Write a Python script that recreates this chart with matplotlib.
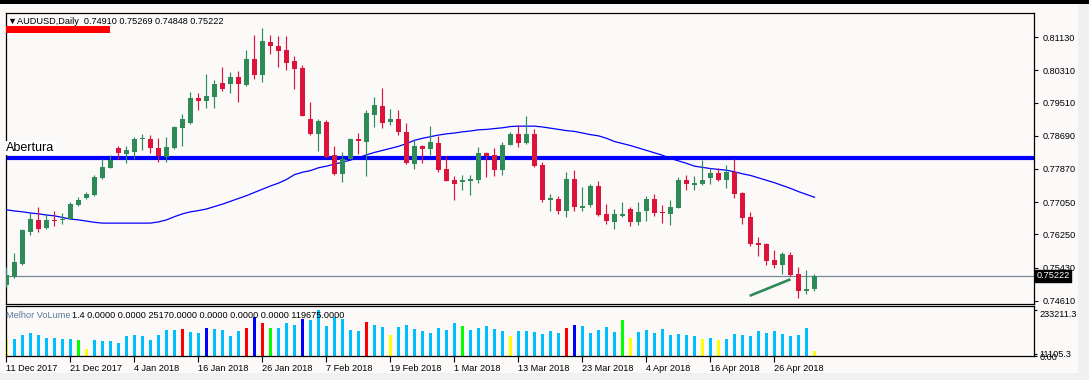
import matplotlib
matplotlib.use('Agg')
import matplotlib.pyplot as plt
import matplotlib.transforms as mtransforms
from matplotlib.patches import Rectangle
import numpy as np

plt.rcParams['font.family'] = ['Liberation Sans', 'DejaVu Sans']

# ---------------- data ----------------
opens = [0.7500, 0.7520, 0.7552, 0.7632, 0.7661, 0.7640, 0.7661, 0.7660, 0.7663, 0.7698,
         0.7714, 0.7723, 0.7765, 0.7790, 0.7840, 0.7824, 0.7830, 0.7861, 0.7861, 0.7840,
         0.7817, 0.7838, 0.7889, 0.7900, 0.7962, 0.7956, 0.7966, 0.8000, 0.7997, 0.8015,
         0.7995, 0.8059, 0.8020, 0.8101, 0.8091, 0.8082, 0.8054, 0.8037, 0.7911, 0.7874,
         0.7903, 0.7822, 0.7775, 0.7812, 0.7861, 0.7855, 0.7921, 0.7943, 0.7904, 0.7911,
         0.7879, 0.7799, 0.7844, 0.7837, 0.7852, 0.7787, 0.7759, 0.7754, 0.7758, 0.7759,
         0.7827, 0.7822, 0.7785, 0.7846, 0.7874, 0.7852, 0.7874, 0.7797, 0.7710, 0.7713,
         0.7683, 0.7762, 0.7690, 0.7698, 0.7745, 0.7676, 0.7657, 0.7671, 0.7688, 0.7657,
         0.7683, 0.7713, 0.7680, 0.7676, 0.7691, 0.7760, 0.7748, 0.7750, 0.7765, 0.7778,
         0.7760, 0.7779, 0.7727, 0.7668, 0.7603, 0.7601, 0.7562, 0.7549, 0.7574, 0.7527,
         0.7486, 0.74910]
highs = [0.7545, 0.7580, 0.7638, 0.7677, 0.7692, 0.7676, 0.7683, 0.7679, 0.7705, 0.7718,
         0.7729, 0.7772, 0.7811, 0.7822, 0.7844, 0.7844, 0.7867, 0.7874, 0.7871, 0.7864,
         0.7865, 0.7893, 0.7922, 0.7978, 0.7974, 0.8022, 0.8007, 0.8040, 0.8028, 0.8030,
         0.8082, 0.8119, 0.8135, 0.8119, 0.8116, 0.8116, 0.8067, 0.8044, 0.7954, 0.7911,
         0.7908, 0.7844, 0.7830, 0.7863, 0.7877, 0.7933, 0.7964, 0.7987, 0.7935, 0.7933,
         0.7902, 0.7859, 0.7846, 0.7893, 0.7869, 0.7819, 0.7770, 0.7772, 0.7772, 0.7842,
         0.7830, 0.7838, 0.7853, 0.7879, 0.7896, 0.7917, 0.7886, 0.7804, 0.7725, 0.7720,
         0.7780, 0.7785, 0.7743, 0.7750, 0.7757, 0.7700, 0.7688, 0.7705, 0.7692, 0.7705,
         0.7720, 0.7725, 0.7698, 0.7710, 0.7768, 0.7772, 0.7770, 0.7809, 0.7789, 0.7789,
         0.7797, 0.7811, 0.7731, 0.7680, 0.7618, 0.7604, 0.7586, 0.7581, 0.7581, 0.7544,
         0.7537, 0.75269]
lows = [0.7496, 0.7516, 0.7549, 0.7624, 0.7632, 0.7638, 0.7647, 0.7651, 0.7662, 0.7696,
        0.7712, 0.7721, 0.7762, 0.7789, 0.7812, 0.7803, 0.7812, 0.7834, 0.7826, 0.7805,
        0.7805, 0.7836, 0.7844, 0.7898, 0.7933, 0.7939, 0.7939, 0.7981, 0.7976, 0.7954,
        0.7993, 0.8010, 0.8003, 0.8072, 0.8040, 0.8032, 0.7985, 0.7917, 0.7871, 0.7832,
        0.7815, 0.7772, 0.7756, 0.7811, 0.7824, 0.7770, 0.7890, 0.7889, 0.7896, 0.7871,
        0.7799, 0.7787, 0.7803, 0.7822, 0.7780, 0.7758, 0.7710, 0.7735, 0.7723, 0.7753,
        0.7768, 0.7770, 0.7772, 0.7846, 0.7842, 0.7849, 0.7793, 0.7706, 0.7684, 0.7676,
        0.7669, 0.7684, 0.7684, 0.7692, 0.7671, 0.7651, 0.7638, 0.7669, 0.7646, 0.7648,
        0.7658, 0.7671, 0.7654, 0.7648, 0.7690, 0.7735, 0.7735, 0.7747, 0.7750, 0.7758,
        0.7741, 0.7716, 0.7651, 0.7596, 0.7572, 0.7549, 0.7541, 0.7527, 0.7523, 0.7468,
        0.7478, 0.74848]
closes = [0.7525, 0.7556, 0.7636, 0.7663, 0.7638, 0.7661, 0.7658, 0.7663, 0.7700, 0.7710,
          0.7725, 0.7768, 0.7793, 0.7808, 0.7827, 0.7834, 0.7861, 0.7863, 0.7838, 0.7819,
          0.7842, 0.7890, 0.7911, 0.7962, 0.7956, 0.7968, 0.7997, 0.7985, 0.8015, 0.7997,
          0.8059, 0.8020, 0.8104, 0.8092, 0.8080, 0.8050, 0.8034, 0.7917, 0.7874, 0.7906,
          0.7817, 0.7775, 0.7811, 0.7861, 0.7856, 0.7926, 0.7945, 0.7902, 0.7911, 0.7879,
          0.7803, 0.7845, 0.7837, 0.7855, 0.7785, 0.7758, 0.7750, 0.7759, 0.7763, 0.7827,
          0.7820, 0.7785, 0.7846, 0.7874, 0.7852, 0.7874, 0.7795, 0.7709, 0.7715, 0.7683,
          0.7762, 0.7694, 0.7695, 0.7745, 0.7673, 0.7658, 0.7676, 0.7676, 0.7657, 0.7681,
          0.7713, 0.7679, 0.7678, 0.7694, 0.7760, 0.7751, 0.7753, 0.7760, 0.7778, 0.7760,
          0.7780, 0.7726, 0.7666, 0.7601, 0.7599, 0.7560, 0.7549, 0.7577, 0.7525, 0.7486,
          0.7489, 0.75222]
ma_values = [0.7686, 0.7683, 0.7681, 0.7678, 0.7676, 0.7673, 0.7671, 0.7667, 0.7663, 0.7661,
             0.7658, 0.7655, 0.7653, 0.7653, 0.7653, 0.7653, 0.7653, 0.7653, 0.7653, 0.7656,
             0.7661, 0.7669, 0.7676, 0.7681, 0.7684, 0.7688, 0.7694, 0.7700, 0.7707, 0.7714,
             0.7721, 0.7729, 0.7737, 0.7745, 0.7752, 0.7761, 0.7773, 0.7779, 0.7783, 0.7790,
             0.7794, 0.7799, 0.7804, 0.7809, 0.7815, 0.7822, 0.7828, 0.7833, 0.7838, 0.7843,
             0.7850, 0.7858, 0.7863, 0.7867, 0.7871, 0.7874, 0.7876, 0.7879, 0.7881, 0.7884,
             0.7885, 0.7887, 0.7889, 0.7892, 0.7893, 0.7893, 0.7893, 0.7891, 0.7888, 0.7885,
             0.7882, 0.7880, 0.7876, 0.7872, 0.7869, 0.7863, 0.7855, 0.7850, 0.7845, 0.7839,
             0.7833, 0.7827, 0.7821, 0.7813, 0.7807, 0.7801, 0.7794, 0.7791, 0.7788, 0.7786,
             0.7784, 0.7780, 0.7775, 0.7771, 0.7765, 0.7759, 0.7753, 0.7746, 0.7739, 0.7731,
             0.7724, 0.7717]
volumes = [88660, 88660, 105000, 115900, 105000, 94100, 94100, 88660, 88660, 83200,
           34100, 83200, 77700, 77700, 66800, 99500, 105000, 99500, 83200, 105000,
           132300, 132300, 137700, 121400, 115900, 143200, 137700, 132300, 99500, 126800,
           143200, 197700, 170500, 143200, 143200, 170500, 159600, 186800, 181400, 233211,
           154100, 197700, 186800, 132300, 126800, 175900, 159600, 148600, 105000, 148600,
           159600, 137700, 126800, 115900, 143200, 132300, 170500, 154100, 132300, 143200,
           154100, 137700, 126800, 99500, 126800, 126800, 121400, 110500, 126800, 115900,
           143200, 159600, 154100, 115900, 132300, 148600, 121400, 181400, 94100, 121400,
           132300, 115900, 137700, 105000, 110500, 105000, 99500, 88660, 94100, 83200,
           88660, 110500, 105000, 99500, 126800, 115900, 126800, 110500, 99500, 105000,
           143200, 25170]
volume_codes = ("ybbbbbbbbg" "ybbbbbbbbb" "bbrbbdbbbb" "rdrgbbbdbb" "bbbbbrbbyb"
                "bbbbbbbgbb" "bbbybbbbbb" "rdbbbbbgyb" "bbbbbbbyby" "bbbbbbbbbb" "by")
date_labels = ['11 Dec 2017', '21 Dec 2017', '4 Jan 2018', '16 Jan 2018', '26 Jan 2018',
               '7 Feb 2018', '19 Feb 2018', '1 Mar 2018', '13 Mar 2018', '23 Mar 2018',
               '4 Apr 2018', '16 Apr 2018', '26 Apr 2018']
date_bar_index = [0, 8, 16, 24, 32, 40, 48, 56, 64, 72, 80, 88, 96]
price_ticks = [0.81130, 0.80310, 0.79510, 0.78690, 0.77870, 0.77050, 0.76250, 0.75430, 0.74610]
open_level = 0.7814           # "Abertura" line
last_price = 0.75222
trend_bars = [92.9, 98.0]
trend_prices = [0.7473, 0.7514]
vol_axis_ticks = [0.0, 11105.3, 233211.3]
vol_axis_labels = ['0.00', '11105.3', '233211.3']
header = "AUDUSD,Daily  0.74910 0.75269 0.74848 0.75222"
vol_name = "Melhor VoLume"
vol_values_text = "1.4 0.0000 0.0000 25170.0000 0.0000 0.0000 0.0000 119675.0000"

# ---------------- style ----------------
W, H = 1089, 380
BG = '#fcf9f9'
BULL = '#2e8b57'
BEAR = '#dc143c'
VCOL = {'b': '#00bfff', 'd': '#0000ff', 'r': '#ff0000', 'g': '#00ff00', 'y': '#ffff00'}
FS = 6.6

fig = plt.figure(figsize=(W / 100, H / 100), dpi=100, facecolor='#f0f0f0')

def fx(x):
    return x / W

def fy(y):
    return 1 - y / H

fig.patches.append(Rectangle((0, fy(373)), fx(1078), fy(4) - fy(373), transform=fig.transFigure,
                             facecolor=BG, edgecolor='none', zorder=-10))
fig.patches.append(Rectangle((0, fy(4)), 1, fy(0) - fy(4), transform=fig.transFigure,
                             facecolor='black', edgecolor='none', zorder=-10))

ax = fig.add_axes([fx(5.5), fy(304), fx(1034) - fx(5.5), fy(13) - fy(304)])
vax = fig.add_axes([fx(5.5), fy(356), fx(1034) - fx(5.5), fy(306) - fy(356)])
for a in (ax, vax):
    a.set_facecolor(BG)
    for s in a.spines.values():
        s.set_color('black')
        s.set_linewidth(0.9)

n = len(closes)
x = np.arange(n)
o = np.array(opens); c = np.array(closes); h = np.array(highs); l = np.array(lows)
cols = [BULL if cc >= oo else BEAR for oo, cc in zip(o, c)]

# main panel
ax.axhline(open_level, color='#0000ff', lw=3.0, zorder=2)
ax.axhline(last_price, color='#778899', lw=0.9, zorder=1)
ax.plot(x, ma_values, color='#0000ff', lw=0.9, zorder=3)
ax.vlines(x, l, h, colors=cols, lw=0.85, zorder=4)
body_bottom = np.minimum(o, c)
body_h = np.maximum(np.abs(c - o), 0.00025)
ax.bar(x, body_h, bottom=body_bottom, width=0.625, color=cols, linewidth=0, zorder=5)
ax.plot(trend_bars, trend_prices, color=BULL, lw=1.9, zorder=6, solid_capstyle='butt')

ax.set_xlim(-0.125, 128.44)
ax.set_ylim(0.74528, 0.81731)
ax.set_xticks([])
ax.yaxis.tick_right()
ax.set_yticks(price_ticks)
ax.set_yticklabels(['%.5f' % t for t in price_ticks])
ax.tick_params(axis='y', direction='out', length=3, width=0.8, pad=3, labelsize=FS, colors='black')

# current price box
tr = mtransforms.blended_transform_factory(fig.transFigure, ax.transData)
ax.text(fx(1036.5), last_price, '%.5f' % last_price, transform=tr, ha='left', va='center',
        fontsize=FS, color='white', zorder=20,
        bbox=dict(boxstyle='square,pad=0.15', facecolor='black', edgecolor='black'))

# "Abertura" label
fig.text(fx(6), fy(148), 'Abertura', fontsize=9, color='black', ha='left', va='center',
         bbox=dict(boxstyle='square,pad=0.1', facecolor='white', edgecolor='none'), zorder=10)

# header
fig.text(fx(8), fy(21), '\u25bc' + header, fontsize=FS, color='black', ha='left', va='center')
fig.patches.append(Rectangle((fx(6), fy(32.5)), fx(110) - fx(6), fy(25.5) - fy(32.5),
                             transform=fig.transFigure, facecolor='#ff0000', edgecolor='none', zorder=5))

# volume panel
vcols = [VCOL[k] for k in volume_codes]
vax.bar(x, volumes, width=0.375, color=vcols, linewidth=0)
vax.set_xlim(-0.125, 128.44)
vax.set_ylim(0, 255000)
vax.yaxis.tick_right()
vax.set_yticks(vol_axis_ticks)
vax.set_yticklabels(vol_axis_labels)
vax.tick_params(axis='y', direction='out', length=2, width=0.8, pad=2, labelsize=FS)
for lab in vax.get_yticklabels():
    if lab.get_text() == '233211.3':
        lab.set_va('top')
vax.set_xticks(date_bar_index)
vax.set_xticklabels(date_labels)
vax.tick_params(axis='x', direction='out', length=4, width=0.8, pad=2, labelsize=FS)
for lab in vax.get_xticklabels():
    lab.set_ha('left')

fig.text(fx(6), fy(315), vol_name, fontsize=FS, color='#5a7a9a', ha='left', va='center')
fig.text(fx(72.5), fy(315), vol_values_text, fontsize=FS, color='black', ha='left', va='center')

fig.savefig('out.png', dpi=100, facecolor=fig.get_facecolor())
